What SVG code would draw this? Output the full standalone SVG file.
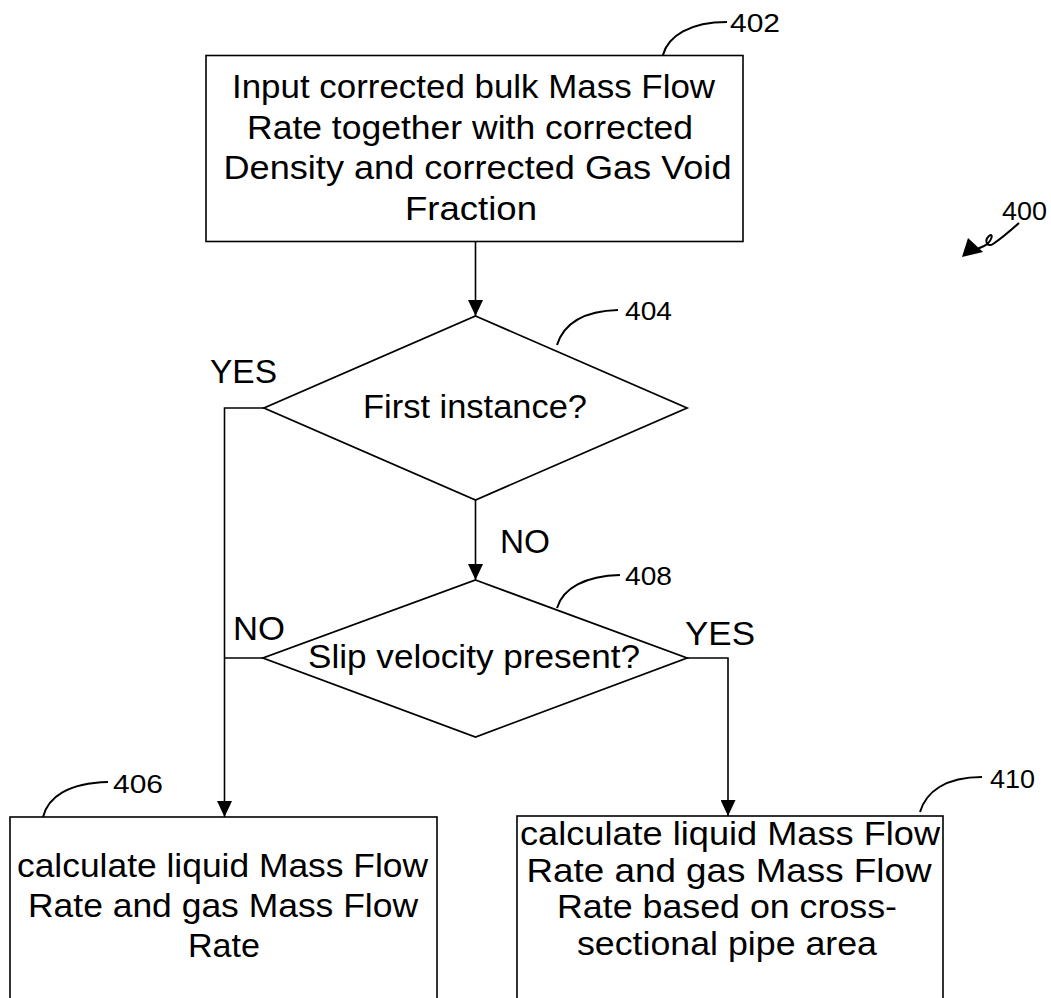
<svg xmlns="http://www.w3.org/2000/svg" width="1051" height="998" viewBox="0 0 1051 998">
<style>
  .t { font-family: "Liberation Sans", Arial, sans-serif; font-size: 33px; fill: #000; text-anchor: middle; }
  .lbl { font-family: "Liberation Sans", Arial, sans-serif; font-size: 33px; fill: #000; }
  .ref { font-family: "Liberation Sans", Arial, sans-serif; font-size: 26px; fill: #000; }
  .box { fill: #fff; stroke: #000; stroke-width: 1.6; }
  .dia { fill: #fff; stroke: #000; stroke-width: 1.8; }
  .ln { fill: none; stroke: #000; stroke-width: 1.6; }
  .lead { fill: none; stroke: #000; stroke-width: 2; }
</style>
<defs>
  <marker id="arr" markerUnits="userSpaceOnUse" markerWidth="16" markerHeight="15" viewBox="0 0 16 15" refX="16" refY="7.5" orient="auto">
    <path d="M0,0 L16,7.5 L0,15 z" fill="#000"/>
  </marker>
</defs>
<rect width="1051" height="998" fill="#fff"/>

<g id="connectors">
  <line class="ln" x1="475.5" y1="241.5" x2="475.5" y2="316" marker-end="url(#arr)"/>
  <polyline class="ln" points="264,408 224.5,408 224.5,817" marker-end="url(#arr)"/>
  <line class="ln" x1="475.5" y1="500" x2="475.5" y2="580" marker-end="url(#arr)"/>
  <line class="ln" x1="263" y1="658" x2="224.5" y2="658"/>
  <polyline class="ln" points="687,658 728,658 728,816" marker-end="url(#arr)"/>
  <text class="lbl" x="210" y="383" textLength="67" lengthAdjust="spacingAndGlyphs">YES</text>
  <text class="lbl" x="500" y="553" textLength="50" lengthAdjust="spacingAndGlyphs">NO</text>
  <text class="lbl" x="233" y="640" textLength="52" lengthAdjust="spacingAndGlyphs">NO</text>
  <text class="lbl" x="685" y="645" textLength="70" lengthAdjust="spacingAndGlyphs">YES</text>
</g>

<g id="n402">
  <rect class="box" x="206" y="55.5" width="537" height="186"/>
  <text class="t" x="473.5" y="98" textLength="483" lengthAdjust="spacingAndGlyphs">Input corrected bulk Mass Flow</text>
  <text class="t" x="470" y="139" textLength="446" lengthAdjust="spacingAndGlyphs">Rate together with corrected</text>
  <text class="t" x="477.5" y="179" textLength="508" lengthAdjust="spacingAndGlyphs">Density and corrected Gas Void</text>
  <text class="t" x="471" y="220" textLength="132" lengthAdjust="spacingAndGlyphs">Fraction</text>
  <path class="lead" d="M663,55 C668,36 690,22 727,22"/>
  <text class="ref" x="730" y="32" textLength="50" lengthAdjust="spacingAndGlyphs">402</text>
</g>

<g id="n404">
  <polygon class="dia" points="475.5,316 687,408 475.5,500 264,408"/>
  <text class="t" x="475" y="418" textLength="224" lengthAdjust="spacingAndGlyphs">First instance?</text>
  <path class="lead" d="M557,345 C564,323 585,311 618,310"/>
  <text class="ref" x="625" y="320" textLength="47" lengthAdjust="spacingAndGlyphs">404</text>
</g>

<g id="n408">
  <polygon class="dia" points="475.5,580 687,658 475.5,737 263,658"/>
  <text class="t" x="474" y="668" textLength="332" lengthAdjust="spacingAndGlyphs">Slip velocity present?</text>
  <path class="lead" d="M557,608 C563,588 585,576 620,575"/>
  <text class="ref" x="625" y="585" textLength="47" lengthAdjust="spacingAndGlyphs">408</text>
</g>

<g id="n406">
  <rect class="box" x="10" y="817" width="427" height="200"/>
  <text class="t" x="222.5" y="877" textLength="411" lengthAdjust="spacingAndGlyphs">calculate liquid Mass Flow</text>
  <text class="t" x="223" y="917" textLength="390" lengthAdjust="spacingAndGlyphs">Rate and gas Mass Flow</text>
  <text class="t" x="224" y="957" textLength="72" lengthAdjust="spacingAndGlyphs">Rate</text>
  <path class="lead" d="M43,817 C48,797 68,783 108,782"/>
  <text class="ref" x="113" y="793" textLength="50" lengthAdjust="spacingAndGlyphs">406</text>
</g>

<g id="n410">
  <rect class="box" x="517" y="816" width="426" height="200"/>
  <text class="t" x="730" y="845" textLength="420" lengthAdjust="spacingAndGlyphs">calculate liquid Mass Flow</text>
  <text class="t" x="729" y="882" textLength="405" lengthAdjust="spacingAndGlyphs">Rate and gas Mass Flow</text>
  <text class="t" x="727" y="918" textLength="340" lengthAdjust="spacingAndGlyphs">Rate based on cross-</text>
  <text class="t" x="727" y="955" textLength="300" lengthAdjust="spacingAndGlyphs">sectional pipe area</text>
  <path class="lead" d="M920,812 C926,792 945,777 982,777"/>
  <text class="ref" x="990" y="788" textLength="45" lengthAdjust="spacingAndGlyphs">410</text>
</g>

<g id="n400">
  <text class="ref" x="1002" y="220" textLength="45" lengthAdjust="spacingAndGlyphs">400</text>
  <path class="lead" d="M1019,223 C1010,231 999,240 993,244 C987,248 984,240 989,236 C994,232 992,242 984,246 L975,250" stroke-width="2.4"/>
  <polygon points="962,257 968,238 983,252" fill="#000"/>
</g>
</svg>
